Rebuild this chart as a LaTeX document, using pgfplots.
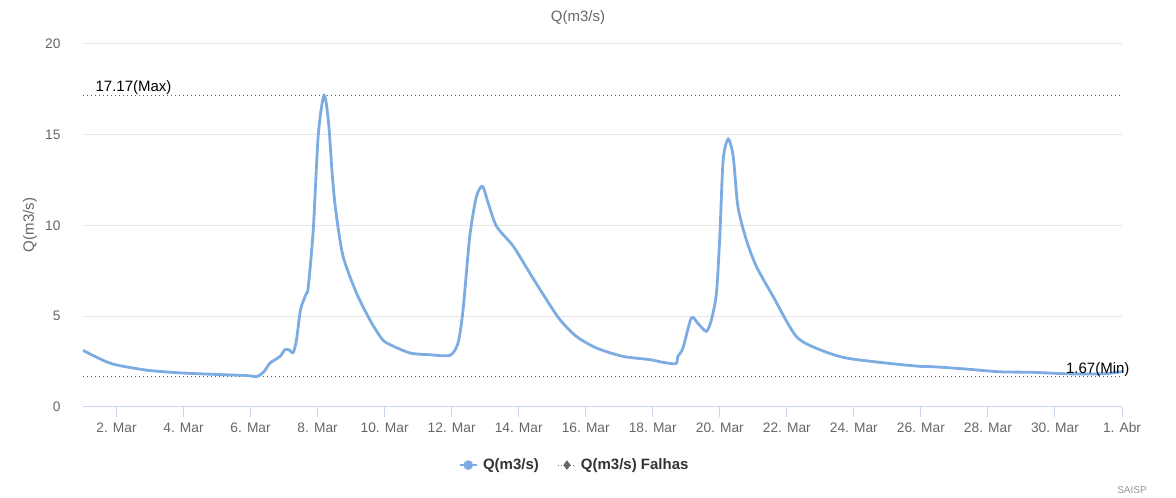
\documentclass[border=0pt]{standalone}
\usepackage{fontspec}
\setmainfont{Liberation Sans}
\usepackage{pgfplots}
\pgfplotsset{compat=1.18}
\definecolor{qblue}{RGB}{124,172,226}
\definecolor{gridc}{RGB}{230,230,230}
\definecolor{axisc}{RGB}{204,214,235}
\definecolor{tickc}{RGB}{102,102,102}
\definecolor{darktext}{RGB}{51,51,51}
\definecolor{dotc}{RGB}{90,90,90}
\begin{document}
\begin{tikzpicture}[x=1pt,y=1pt]
\path[use as bounding box] (0,0) rectangle (1176,498);
\begin{axis}[
  at={(83pt,91pt)}, anchor=south west,
  scale only axis, width=1039pt, height=363pt,
  xmin=1, xmax=32, ymin=0, ymax=20,
  axis x line=bottom, axis y line=left,
  x axis line style={-, draw=axisc, line width=1pt},
  y axis line style={draw=none},
  xtick={2,4,...,32},
  xticklabels={2. Mar,4. Mar,6. Mar,8. Mar,10. Mar,12. Mar,14. Mar,16. Mar,18. Mar,20. Mar,22. Mar,24. Mar,26. Mar,28. Mar,30. Mar,1. Abr},
  ytick={0,5,10,15,20},
  xtick align=outside,
  major tick length=10pt,
  xtick style={draw=axisc, line width=1pt},
  ytick style={draw=none},
  ymajorgrids, grid style={draw=gridc, line width=1pt},
  /pgf/number format/assume math mode=true,
  ticklabel style={font=\fontsize{13.75}{16}\selectfont, text=tickc},
  yticklabel style={xshift=-14pt},
  xticklabel style={yshift=-2pt, text height=10pt, text depth=3pt},
  legend columns=2,
  legend style={at={(0.4745,-0.16)}, anchor=center, draw=none, fill=none,
    font=\fontsize{15}{18}\selectfont\bfseries, text=darktext,
    /tikz/every even column/.append style={column sep=14pt},
    nodes={inner xsep=5pt}},
  clip=false,
]
\addlegendimage{qblue, line width=2.5pt, mark=*, mark size=3.5pt, mark options={solid}}
\addlegendentry{Q(m3/s)}
\addlegendimage{tickc, line width=1pt, dash pattern=on 1pt off 2pt, mark=diamond*, mark size=4pt, mark options={solid}}
\addlegendentry{Q(m3/s) Falhas}

\addplot[forget plot, dotc, line width=1pt, dash pattern=on 1pt off 3pt] coordinates {(1,17.17) (32,17.17)};
\addplot[forget plot, dotc, line width=1pt, dash pattern=on 1pt off 3pt] coordinates {(1,1.67) (32,1.67)};

\addplot[forget plot, qblue, line width=2.8pt, smooth, tension=0.45] coordinates {
(1.00,3.12) (1.4,2.75) (1.9,2.36) (2.9,2.03) (3.9,1.88) (4.9,1.80) (5.9,1.73) (6.18,1.67)
(6.4,1.95) (6.58,2.42) (6.88,2.79) (7.02,3.15) (7.15,3.15) (7.27,3.0) (7.37,3.7) (7.49,5.36)
(7.65,6.2) (7.72,6.6) (7.87,9.77) (8.02,15.0) (8.19,17.17) (8.32,15.8) (8.45,12.5) (8.55,10.7)
(8.76,8.3) (9.16,6.28) (9.56,4.8) (9.86,3.9) (10.06,3.53) (10.75,2.98) (11.35,2.88) (11.95,2.85)
(12.19,3.53) (12.34,5.36) (12.54,9.4) (12.74,11.6) (12.92,12.15) (13.09,11.24) (13.34,9.95)
(13.84,8.85) (14.33,7.38) (14.83,5.91) (15.23,4.81) (15.72,3.89) (16.32,3.25) (17.11,2.79)
(17.91,2.61) (18.31,2.46) (18.69,2.39) (18.75,2.79) (18.9,3.25) (19.15,4.9) (19.35,4.6)
(19.6,4.17) (19.75,4.81) (19.9,6.28) (20.0,9.4) (20.1,13.6) (20.25,14.76) (20.4,13.8)
(20.54,11.05) (20.79,9.22) (21.09,7.75) (21.59,6.09) (22.28,3.89) (22.98,3.16) (23.77,2.70)
(24.97,2.42) (25.96,2.24) (26.36,2.22) (27.36,2.09) (28.35,1.94) (29.34,1.91) (30.34,1.83)
(31.13,1.82) (31.6,1.85) (32.0,1.95)
};

\node[anchor=base west, font=\fontsize{15}{18}\selectfont, text=black, yshift=4pt] at (axis cs:1.27,17.17) {17.17(Max)};
\node[anchor=base east, font=\fontsize{15}{18}\selectfont, text=black, yshift=3pt, xshift=11pt] at (axis cs:32,1.67) {1.67(Min)};
\end{axis}
\node[font=\fontsize{15}{18}\selectfont, text=tickc] at (578,480) {Q(m3/s)};
\node[font=\fontsize{15}{18}\selectfont, text=tickc, rotate=90] at (30,273) {Q(m3/s)};
\node[font=\fontsize{10}{12}\selectfont, text=tickc!70] at (1132,8) {SAISP};
\end{tikzpicture}
\end{document}
